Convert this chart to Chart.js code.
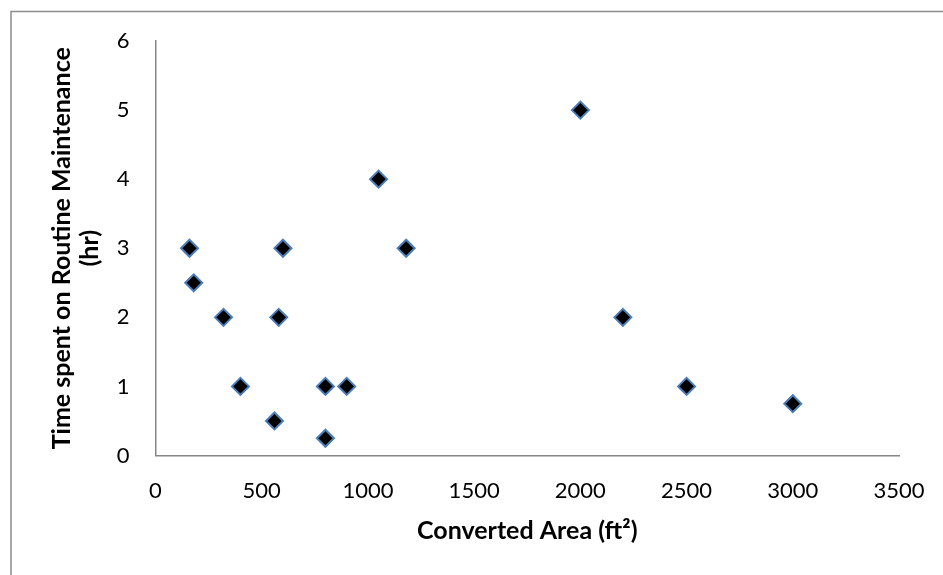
<!DOCTYPE html>
<html>
<head>
<meta charset="utf-8">
<script src="https://cdn.jsdelivr.net/npm/chart.js@4"></script>
<style>
  html, body { margin: 0; padding: 0; background: #fff; }
  #wrap { width: 943px; height: 575px; position: relative; }
</style>
</head>
<body>
<div id="wrap"><canvas id="c" width="943" height="575"></canvas></div>
<script>
const areaValues = [160, 180, 320, 400, 560, 600, 580, 800, 900, 800, 1050, 1180, 2000, 2200, 2500, 3000];
const timeValues = [3, 2.5, 2, 1, 0.5, 3, 2, 1, 1, 0.25, 4, 3, 5, 2, 1, 0.75];
const xTitle = "Converted Area (ft²)";
const yTitle = ["Time spent on Routine Maintenance", "(hr)"];

const points = areaValues.map((x, i) => ({ x: x, y: timeValues[i] }));

const frame = {
  id: 'frame',
  afterDraw(chart) {
    const ctx = chart.ctx;
    ctx.save();
    ctx.strokeStyle = '#8c8c8c';
    ctx.lineWidth = 1.5;
    ctx.beginPath();
    ctx.moveTo(11, 575);
    ctx.lineTo(11, 11.5);
    ctx.lineTo(943, 11.5);
    ctx.stroke();
    ctx.restore();
  }
};

const tickFont = { family: 'Lato', size: 22 };
const titleFont = { family: 'Lato', size: 25, weight: 'bold', lineHeight: '28px' };

new Chart(document.getElementById('c'), {
  type: 'scatter',
  data: {
    datasets: [{
      data: points,
      pointStyle: 'rectRot',
      pointRadius: 8.5,
      pointHoverRadius: 8.5,
      backgroundColor: '#000000',
      borderColor: '#4a7ebb',
      borderWidth: 2
    }]
  },
  options: {
    responsive: false,
    animation: false,
    events: [],
    layout: { padding: { left: 0, right: 44, top: 41, bottom: 0 } },
    plugins: { legend: { display: false }, tooltip: { enabled: false } },
    scales: {
      x: {
        type: 'linear',
        min: 0, max: 3500,
        ticks: { stepSize: 500, color: '#000', font: tickFont, padding: 22, maxRotation: 0,
                 callback: (v) => String(v) },
        grid: { display: false, drawTicks: false },
        border: { display: true, color: '#868686', width: 1.5 },
        title: { display: true, text: xTitle, color: '#000', font: titleFont, padding: { top: 0, bottom: 30 } },
        afterFit(scale) { scale.height = 119.5; scale.paddingRight = 0; scale.paddingLeft = 0; }
      },
      y: {
        type: 'linear',
        min: 0, max: 6,
        ticks: { stepSize: 1, color: '#000', font: tickFont, padding: 26,
                 callback: (v) => String(v) },
        grid: { display: false, drawTicks: false },
        border: { display: true, color: '#868686', width: 1.5 },
        title: { display: true, text: yTitle, color: '#000', font: titleFont, padding: { top: 48, bottom: 0 } },
        afterFit(scale) { scale.width = 155.5; }
      }
    }
  },
  plugins: [frame]
});
</script>
</body>
</html>
